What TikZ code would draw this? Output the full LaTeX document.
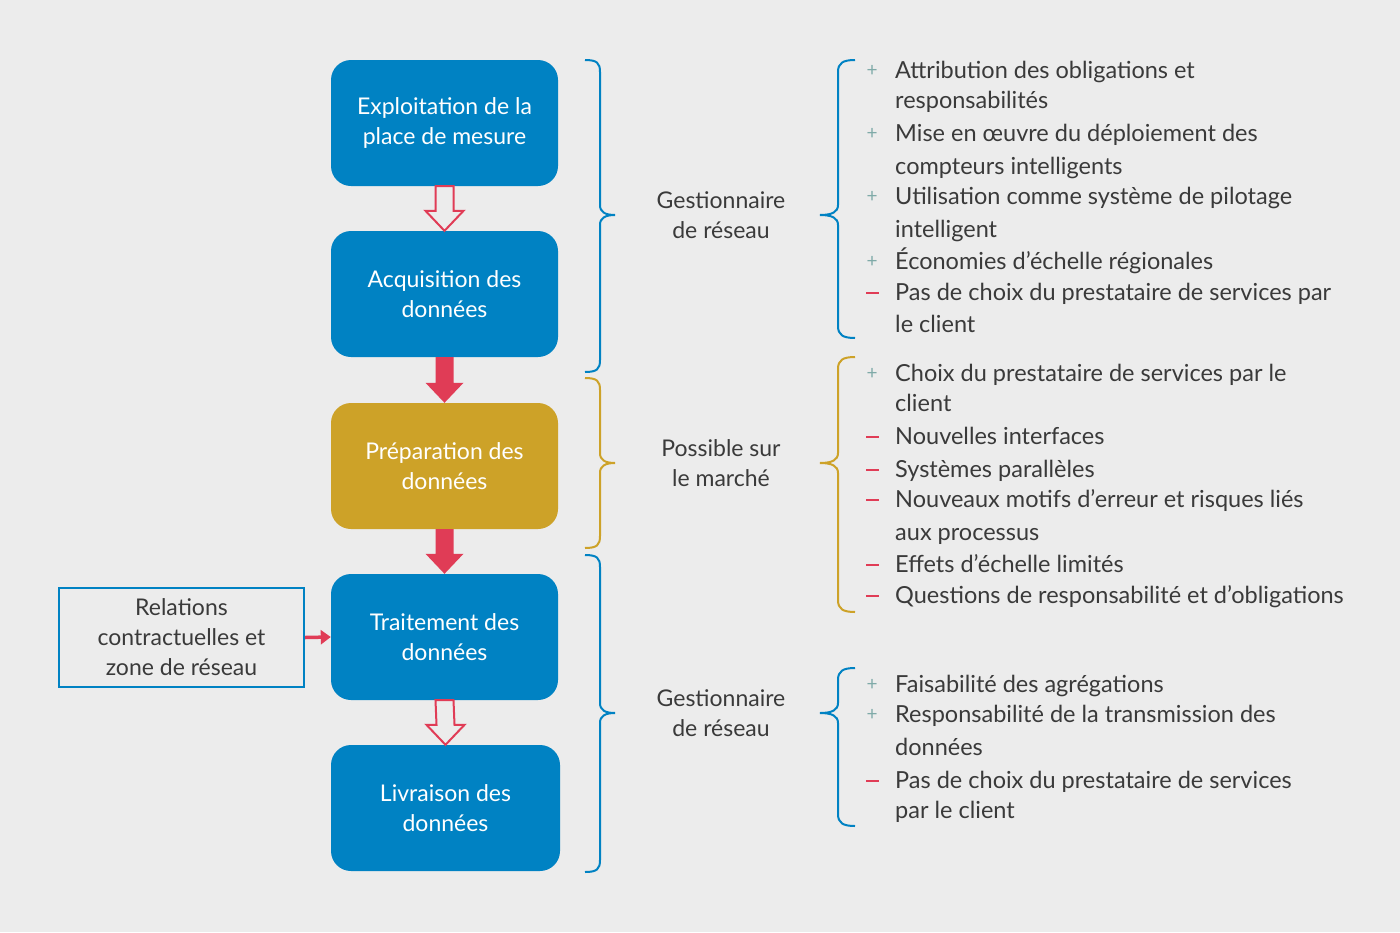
\documentclass[tikz,border=0pt]{standalone}
\usepackage{fontspec}
\setmainfont{Lato}
\usetikzlibrary{calc,arrows.meta}
\definecolor{bg}{HTML}{ECECEC}
\definecolor{bl}{HTML}{0082C3}
\definecolor{gd}{HTML}{CDA228}
\definecolor{rd}{HTML}{E03C56}
\definecolor{tx}{HTML}{3A3A3A}
\definecolor{pl}{HTML}{7FAAA8}
\tikzset{x=1pt,y=-1pt,
 box/.style={rounded corners=20pt,minimum width=227pt,minimum height=126pt,align=center,text=white,font=\fontsize{23}{30}\selectfont,inner sep=0},
 lbl/.style={align=center,text=tx,font=\fontsize{23}{30}\selectfont},
 itm/.style={anchor=base west,text=tx,font=\fontsize{23.5}{30}\selectfont,inner sep=0},
 mk/.style={anchor=base,font=\fontsize{19}{20}\selectfont,inner sep=0},
 br/.style={line width=2pt}}
\newcommand{\myarr}[3]{%
 \path[#3] ($(#1.south)+(-9,0)$) -- ($(#1.south)+(9,0)$) -- ($(#2.north)+(9,-20)$) -- ($(#2.north)+(19,-20)$) -- (#2.north) -- ($(#2.north)+(-19,-20)$) -- ($(#2.north)+(-9,-20)$) -- cycle;}
\newcommand{\bracer}[5]{%
 \draw[br,#5] (#1,#2) .. controls (#1+12,#2) and (#1+15,#2+3) .. (#1+15,#2+12) -- (#1+15,#3-10) .. controls (#1+15,#3-3) and (#1+20,#3) .. (#1+30,#3) .. controls (#1+20,#3) and (#1+15,#3+3) .. (#1+15,#3+10) -- (#1+15,#4-12) .. controls (#1+15,#4-3) and (#1+12,#4) .. (#1,#4);}
\newcommand{\bracel}[5]{%
 \draw[br,#5] (#1+35,#2) .. controls (#1+23,#2) and (#1+18,#2+3) .. (#1+18,#2+12) -- (#1+18,#3-10) .. controls (#1+18,#3-3) and (#1+12,#3) .. (#1,#3) .. controls (#1+12,#3) and (#1+18,#3+3) .. (#1+18,#3+10) -- (#1+18,#4-12) .. controls (#1+18,#4-3) and (#1+23,#4) .. (#1+35,#4);}
\def\pp{+}
\begin{document}
\begin{tikzpicture}
\fill[bg] (0,0) rectangle (1400,932);
\useasboundingbox (0,0) rectangle (1400,932);
\node[box,fill=bl] (b1) at (444.5,123) {Exploitation de la\\place de mesure};
\node[box,fill=bl] (b2) at (444.5,294) {Acquisition des\\données};
\node[box,fill=gd] (b3) at (444.5,466) {Préparation des\\données};
\node[box,fill=bl] (b4) at (444.5,637) {Traitement des\\données};
\node[box,fill=bl,minimum width=229pt] (b5) at (445.5,808) {Livraison des\\données};
\node[draw=bl,line width=2pt,minimum width=245pt,minimum height=99pt,align=center,text=tx,font=\fontsize{23}{30}\selectfont] (rel) at (181.5,637.5) {Relations\\contractuelles et\\zone de réseau};
\myarr{b1}{b2}{draw=rd,line width=2pt,fill=bg}
\myarr{b2}{b3}{fill=rd}
\myarr{b3}{b4}{fill=rd}
\myarr{b4}{b5}{draw=rd,line width=2pt,fill=bg}
\draw[rd,line width=3.5pt,-{Triangle[length=10pt,width=14pt]}] (rel.east) -- (b4.west);
\bracer{585}{60}{215}{372}{bl}
\bracer{585}{378}{463}{548}{gd}
\bracer{585}{555}{713}{872}{bl}
\bracel{820}{60}{215}{338}{bl}
\bracel{820}{357}{463}{612}{gd}
\bracel{820}{668}{713}{826}{bl}
\node[lbl] (l1) at (721,215) {Gestionnaire\\de réseau};
\node[lbl] (l2) at (721,463) {Possible sur\\le marché};
\node[lbl] (l3) at (721,713) {Gestionnaire\\de réseau};
\foreach \y/\m/\t in {
 78/+/Attribution des obligations et, 108/0/responsabilités,
 141/+/Mise en œuvre du déploiement des, 174/0/compteurs intelligents,
 204/+/Utilisation comme système de pilotage, 237/0/intelligent,
 269/+/Économies d’échelle régionales, 300/-/Pas de choix du prestataire de services par, 332/0/le client,
 381/+/Choix du prestataire de services par le, 411/0/client,
 444/-/Nouvelles interfaces, 477/-/Systèmes parallèles,
 507/-/Nouveaux motifs d’erreur et risques liés, 540/0/aux processus,
 572/-/Effets d’échelle limités, 603/-/Questions de responsabilité et d’obligations,
 692/+/Faisabilité des agrégations, 722/+/Responsabilité de la transmission des, 755/0/données,
 788/-/Pas de choix du prestataire de services, 818/0/par le client}{
 \node[itm] at (895,\y) {\t};
 \ifx\m\pp\node[mk,text=pl] at (872,\y-2) {+};\fi
}
\foreach \y in {300,444,477,507,572,603,788}{\draw[rd,line width=1.2pt] (866,\y-7) -- (879,\y-7);}
\end{tikzpicture}
\end{document}
